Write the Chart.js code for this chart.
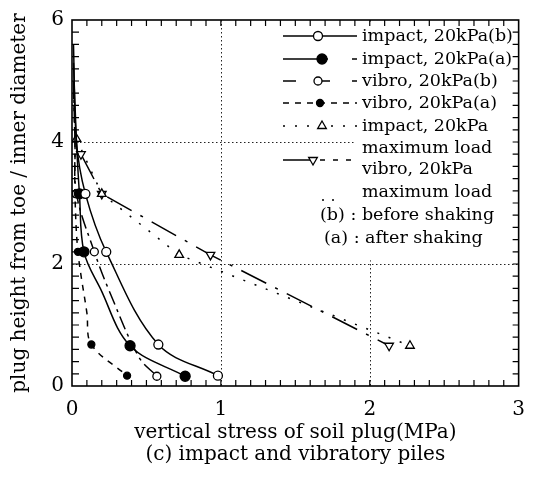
<!DOCTYPE html>
<html>
<head>
<meta charset="utf-8">
<script src="https://cdn.jsdelivr.net/npm/chart.js@4.4.1/dist/chart.umd.min.js"></script>
<style>html,body{margin:0;padding:0;background:#fff}</style>
</head>
<body>
<canvas id="grafico" width="537" height="483"></canvas>
<script>
(function(){

// eixos
const ticksX=[0,1,2,3];
const ticksY=[0,2,4,6];
const gradeX=[1,2];
const gradeY=[2,4];

// impact, 20kPa (b) - before shaking
const impB_x=[0.01,0.03,0.09,0.23,0.58,0.98];
const impB_y=[5.6,4.0,3.15,2.2,0.68,0.17];
// impact, 20kPa (a) - after shaking
const impA_x=[0.01,0.03,0.05,0.08,0.19,0.39,0.76];
const impA_y=[5.3,4.0,3.15,2.2,1.6,0.66,0.16];
// vibro, 20kPa (b)
const vibB_x=[0.01,0.02,0.03,0.15,0.26,0.45,0.57];
const vibB_y=[5.0,4.0,3.15,2.2,1.5,0.47,0.16];
// vibro, 20kPa (a)
const vibA_x=[0.01,0.02,0.02,0.04,0.1,0.13,0.37];
const vibA_y=[4.8,4.0,3.15,2.2,1.2,0.68,0.17];
// maximum load
const impMax_x=[0.03,0.2,0.72,2.27];
const impMax_y=[4.05,3.15,2.15,0.66];
const vibMax_x=[0.06,0.2,0.93,2.13];
const vibMax_y=[3.8,3.15,2.15,0.66];

const legendaTxt=["impact, 20kPa(b)","impact, 20kPa(a)","vibro, 20kPa(b)","vibro, 20kPa(a)",
  "impact, 20kPa","maximum load","vibro, 20kPa","maximum load"];
const notas=["(b) : before shaking","(a) : after shaking"];

const pts=(xs,ys)=>xs.map((v,i)=>({x:v,y:ys[i]}));
const raios=(n,mostrar,r)=>Array.from({length:n},(_,i)=>mostrar.includes(i)?r:0);

const FONTE="'DejaVu Serif', serif";
Chart.defaults.font.family=FONTE;
Chart.defaults.color="#000";

const series=[
  {data:pts(impB_x,impB_y),borderDash:[],pointStyle:'circle',pointRadius:raios(6,[2,3,4,5],4.5),pointBackgroundColor:'#fff',tension:0.35},
  {data:pts(impA_x,impA_y),borderDash:[],pointStyle:'circle',pointRadius:raios(7,[2,3,5,6],5),pointBackgroundColor:'#000',tension:0.35},
  {data:pts(vibB_x,vibB_y),borderDash:[14,5,3,5],pointStyle:'circle',pointRadius:raios(7,[2,3,6],4),pointBackgroundColor:'#fff',tension:0.35},
  {data:pts(vibA_x,vibA_y),borderDash:[6,6],pointStyle:'circle',pointRadius:raios(7,[2,3,5,6],3.5),pointBackgroundColor:'#000',tension:0.35},
  {data:pts(impMax_x,impMax_y),borderDash:[2,10],pointStyle:'triangle',pointRadius:5,pointBackgroundColor:'#fff',tension:0},
  {data:pts(vibMax_x,vibMax_y),borderDash:[28,10,3,10],pointStyle:'triangle',pointRotation:180,pointRadius:5,pointBackgroundColor:'#fff',tension:0}
];
series.forEach(s=>{
  s.showLine=true; s.borderColor='#000'; s.borderWidth=1.5;
  s.pointBorderColor='#000'; s.pointBorderWidth=1.3;
});

function marcador(ctx,s,x,y){
  ctx.save();
  ctx.setLineDash([]);
  ctx.fillStyle=s.pointBackgroundColor; ctx.strokeStyle='#000'; ctx.lineWidth=1.3;
  const r=Array.isArray(s.pointRadius)?Math.max(...s.pointRadius):s.pointRadius;
  Chart.helpers.drawPoint(ctx,{pointStyle:s.pointStyle,radius:r,rotation:s.pointRotation||0,borderWidth:1.3},x,y);
  ctx.restore();
}

function traco(ctx,dash,x1,x2,y){
  ctx.save();
  ctx.setLineDash(dash); ctx.lineWidth=1.5; ctx.strokeStyle='#000';
  ctx.beginPath(); ctx.moveTo(x1,y); ctx.lineTo(x2,y); ctx.stroke();
  ctx.restore();
}

const moldura={
  id:'moldura',
  beforeDatasetsDraw(chart){
    const {ctx,chartArea:a,scales:{x,y}}=chart;
    ctx.save();
    ctx.strokeStyle='#222'; ctx.lineWidth=1; ctx.setLineDash([1.5,2.5]);
    gradeX.forEach(v=>{
      const p=Math.round(x.getPixelForValue(v))+0.5;
      ctx.beginPath(); ctx.moveTo(p,a.top); ctx.lineTo(p,a.bottom); ctx.stroke();
    });
    gradeY.forEach(v=>{
      const p=Math.round(y.getPixelForValue(v))+0.5;
      ctx.beginPath(); ctx.moveTo(a.left,p); ctx.lineTo(a.right,p); ctx.stroke();
    });
    // fundo da legenda
    const lx=x.getPixelForValue(1.9);
    ctx.fillStyle='#fff';
    ctx.fillRect(lx,a.top+2,a.right-lx-1,y.getPixelForValue(2.06)-a.top-2);
    ctx.restore();
  },
  afterDraw(chart){
    const {ctx,chartArea:a,scales:{x,y}}=chart;
    ctx.save();
    ctx.strokeStyle='#000'; ctx.lineWidth=1.6;
    ctx.strokeRect(a.left,a.top,a.right-a.left,a.bottom-a.top);
    ctx.lineWidth=1.2;
    // ticks internos
    for(let i=1;i<30;i++){
      const p=x.getPixelForValue(i/10);
      ctx.beginPath();
      ctx.moveTo(p,a.bottom); ctx.lineTo(p,a.bottom-6);
      ctx.moveTo(p,a.top); ctx.lineTo(p,a.top+6);
      ctx.stroke();
    }
    for(let i=1;i<30;i++){
      const p=y.getPixelForValue(i/5);
      ctx.beginPath();
      ctx.moveTo(a.left,p); ctx.lineTo(a.left+7,p);
      ctx.moveTo(a.right,p); ctx.lineTo(a.right-6,p);
      ctx.stroke();
    }
    // legenda
    const linhas=[36,59,81,103,126,148,169,192];
    ctx.font="17.5px "+FONTE; ctx.fillStyle='#000'; ctx.textBaseline='middle'; ctx.textAlign='left';
    legendaTxt.forEach((t,i)=>ctx.fillText(t,362,linhas[i]));
    notas.forEach((t,i)=>ctx.fillText(t,i?324:320,[215,238][i]));
    const x1=283,x2=357;
    traco(ctx,[],x1,x2,linhas[0]); marcador(ctx,series[0],318,linhas[0]);
    traco(ctx,[],x1,328,linhas[1]); traco(ctx,[],352,357,linhas[1]); marcador(ctx,series[1],322,linhas[1]);
    traco(ctx,[],x1,296,linhas[2]); traco(ctx,[],316,330,linhas[2]); traco(ctx,[],352,357,linhas[2]); marcador(ctx,series[2],318,linhas[2]);
    traco(ctx,[6,6],x1,x2,linhas[3]); marcador(ctx,series[3],320,linhas[3]);
    traco(ctx,[2,10],x1,x2,linhas[4]); marcador(ctx,series[4],322,linhas[4]);
    traco(ctx,[],x1,312,160); traco(ctx,[5,8],320,x2,160); marcador(ctx,series[5],313,160);
    traco(ctx,[2,8],322,340,200);
    ctx.restore();
  }
};

new Chart(document.getElementById('grafico'),{
  type:'scatter',
  data:{datasets:series},
  options:{
    responsive:false,
    animation:false,
    layout:{padding:{top:13,right:15,left:0,bottom:0}},
    plugins:{legend:{display:false},tooltip:{enabled:false}},
    scales:{
      x:{
        type:'linear',min:0,max:3,
        afterFit:s=>{s.height=97;},
        afterBuildTicks:s=>{s.ticks=ticksX.map(v=>({value:v}));},
        grid:{display:false,drawTicks:false},
        border:{display:false},
        ticks:{font:{size:20},padding:12,color:'#000',maxRotation:0},
        title:{display:true,text:["vertical stress of soil plug(MPa)","(c) impact and vibratory piles"],
          font:{size:20,lineHeight:22/20},padding:{top:0,bottom:17},color:'#000'}
      },
      y:{
        type:'linear',min:0,max:6,
        afterFit:s=>{s.width=72;},
        afterBuildTicks:s=>{s.ticks=ticksY.map(v=>({value:v}));},
        grid:{display:false,drawTicks:false},
        border:{display:false},
        ticks:{font:{size:20},padding:8,color:'#000'},
        title:{display:true,text:"plug height from toe / inner diameter",
          font:{size:20,lineHeight:22/20},padding:{top:9,bottom:0},color:'#000'}
      }
    }
  },
  plugins:[moldura]
});

})();
</script>
</body>
</html>
